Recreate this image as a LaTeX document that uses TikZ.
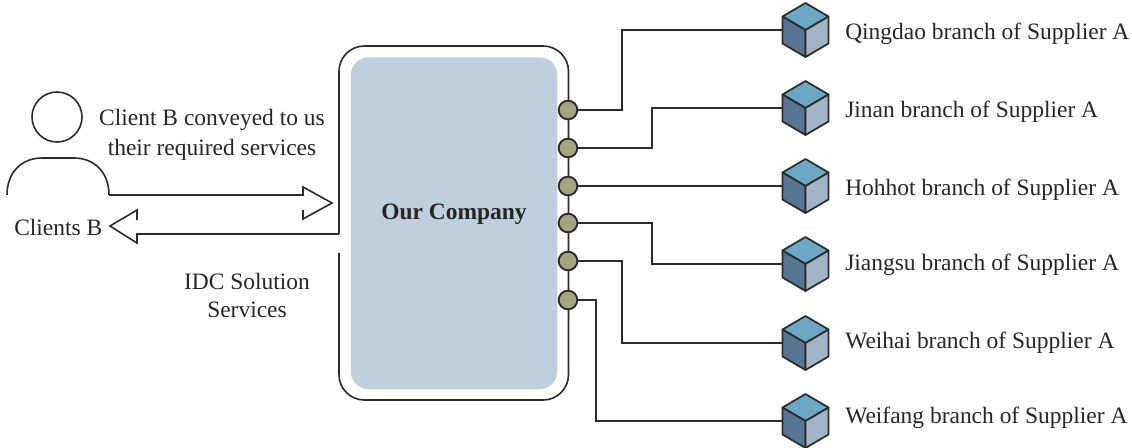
\documentclass[tikz,border=0pt]{standalone}
\usepackage{fontspec}
\setmainfont{Liberation Serif}
\definecolor{ink}{HTML}{2B2B2B}
\definecolor{panel}{HTML}{C0CFDD}
\definecolor{portc}{HTML}{A3A57E}
\definecolor{ctop}{HTML}{6CA8C4}
\definecolor{cleft}{HTML}{587694}
\definecolor{cright}{HTML}{A0B4C8}
\tikzset{
  lbl/.style={font=\fontsize{17.6}{20}\selectfont,text=black!85,inner sep=0pt},
  branch/.style={lbl,anchor=west},
  port/.style={circle,draw=ink,line width=1.4pt,fill=portc,minimum size=14pt,inner sep=0pt},
  wire/.style={draw=ink,line width=1.1pt},
  outline/.style={draw=ink,line width=1.2pt,line join=miter},
  face/.style={draw=ink,line width=1.3pt,line join=round},
}
\newcommand{\cubeat}[2]{%
  \coordinate (#1) at (782,#2);
  \begin{scope}[shift={(805.5,#2)}]
    \fill[face,fill=ctop] (-23,-13.5) -- (0,-27) -- (23,-13.5) -- (0,0) -- cycle;
    \fill[face,fill=cleft] (-23,-13.5) -- (0,0) -- (0,27) -- (-23,13.5) -- cycle;
    \fill[face,fill=cright] (23,-13.5) -- (0,0) -- (0,27) -- (23,13.5) -- cycle;
  \end{scope}}
\begin{document}
\begin{tikzpicture}[x=0.75pt,y=-0.75pt]
\useasboundingbox (0,0) rectangle (1132,447);
% panel
\node[fill=panel,rounded corners=13.5pt,minimum width=155pt,minimum height=249pt,inner sep=0pt,anchor=north west] (company) at (350.5,57) {};
\node[lbl,font=\fontsize{17.6}{20}\selectfont\bfseries] (companytext) at (454,214) {Our Company};
% frame
\coordinate (gapA) at (339,234);
\coordinate (gapB) at (339,253);
\draw[outline,rounded corners=19pt] (gapA) -- (339,46) -- (568.5,46) -- (568.5,400) -- (339,400) -- (gapB);
% cubes
\cubeat{c1}{30}
\cubeat{c2}{108}
\cubeat{c3}{186}
\cubeat{c4}{264}
\cubeat{c5}{343}
\cubeat{c6}{421}
% ports
\node[port] (p1) at (568,110) {};
\node[port] (p2) at (568,148) {};
\node[port] (p3) at (568,186) {};
\node[port] (p4) at (568,223) {};
\node[port] (p5) at (568,261) {};
\node[port] (p6) at (568,300) {};
% wires
\draw[wire] (p1) -- (622,110) -- (622,30) -- (c1);
\draw[wire] (p2) -- (652,148) -- (652,108) -- (c2);
\draw[wire] (p3) -- (c3);
\draw[wire] (p4) -- (652,223) -- (652,264) -- (c4);
\draw[wire] (p5) -- (622,261) -- (622,343) -- (c5);
\draw[wire] (p6) -- (596,300) -- (596,421) -- (c6);
% person
\node[circle,draw=ink,line width=1.2pt,minimum size=37.5pt,inner sep=0pt] (head) at (57,117) {};
\coordinate (shL) at (7,195);
\coordinate (shR) at (109,195);
\draw[outline] (shL) .. controls (7,172) and (22,158) .. (42,158) -- (74,158) .. controls (94,158) and (109,172) .. (shR);
% arrows
\draw[outline,line join=miter] (shR) -- (303,195) -- (303,187) -- (332,203) -- (303,219) -- (303,210);
\draw[outline,line join=miter] (gapA) -- (137,234) -- (137,243) -- (110,226) -- (137,210) -- (137,220);
% labels
\node[lbl] (t1) at (212,120) {Client B conveyed to us};
\node[lbl] (t2) at (212,150) {their required services};
\node[lbl,anchor=west] (t3) at (14,227) {Clients B};
\node[lbl] (t4) at (247,281) {IDC Solution};
\node[lbl] (t5) at (247,310) {Services};
\node[branch] (l1) at (845,34) {Qingdao branch of Supplier A};
\node[branch] (l2) at (845,112) {Jinan branch of Supplier A};
\node[branch] (l3) at (845,190) {Hohhot branch of Supplier A};
\node[branch] (l4) at (845,265) {Jiangsu branch of Supplier A};
\node[branch] (l5) at (845,343) {Weihai branch of Supplier A};
\node[branch] (l6) at (845,418) {Weifang branch of Supplier A};
\end{tikzpicture}
\end{document}
